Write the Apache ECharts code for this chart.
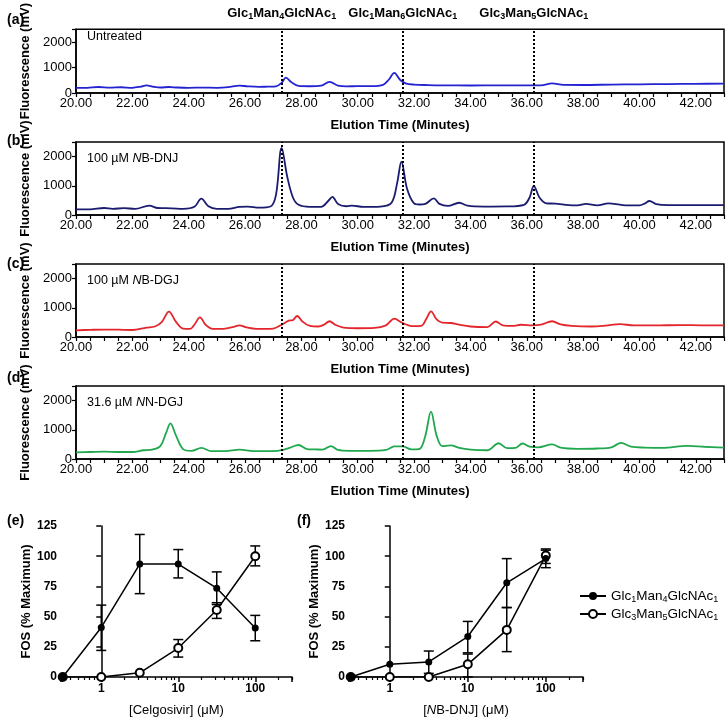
<!DOCTYPE html>
<html><head><meta charset="utf-8">
<script src="https://cdn.jsdelivr.net/npm/echarts@6/dist/echarts.min.js"></script>
<style>html,body{margin:0;padding:0;background:#fff}#c{width:727px;height:718px}</style>
</head><body><div id="c"></div>
<script>
// ---------- data ----------
const peakLabels = ['Glc1Man4GlcNAc1', 'Glc1Man6GlcNAc1', 'Glc3Man5GlcNAc1'];
const peakTimes = [27.3, 31.6, 36.25];
const panelLetters = ['(a)', '(b)', '(c)', '(d)'];
const panelNotes = ['Untreated', '100 µM {i|N}B-DNJ', '100 µM {i|N}B-DGJ', '31.6 µM {i|N}N-DGJ'];
const traceColors = ['#2323d2', '#1b1b70', '#e2262c', '#20a84e'];

const traceUntreated = [[20.0,200],[20.4,205],[20.8,235],[21.2,210],[21.6,225],[22.0,205],[22.3,250],[22.5,300],[22.75,245],[23.0,215],[23.3,235],[23.6,215],[24.0,205],[24.5,210],[25.0,205],[25.4,230],[25.8,290],[26.1,260],[26.5,240],[26.8,250],[27.1,260],[27.3,400],[27.45,600],[27.65,420],[27.9,280],[28.3,265],[28.7,290],[29.0,440],[29.3,290],[29.6,260],[30.0,270],[30.5,270],[30.9,320],[31.1,520],[31.3,790],[31.5,520],[31.7,380],[32.0,330],[32.5,310],[33.0,300],[34.0,295],[35.0,300],[36.0,300],[36.5,300],[36.9,380],[37.3,320],[38.0,315],[39.0,330],[40.0,340],[41.0,350],[42.0,360],[43.0,370]];
const traceNBDNJ = [[20,190],[20.5,195],[21.0,240],[21.3,210],[21.7,235],[22.1,210],[22.6,320],[22.9,240],[23.4,230],[23.8,210],[24.2,280],[24.45,560],[24.7,300],[25.0,210],[25.4,210],[25.8,280],[26.1,290],[26.5,250],[26.9,290],[27.1,700],[27.3,2300],[27.5,1300],[27.7,600],[27.9,350],[28.3,280],[28.7,280],[28.95,480],[29.1,620],[29.3,380],[29.6,300],[29.8,320],[30.2,280],[30.8,290],[31.2,420],[31.4,1100],[31.55,1830],[31.75,900],[32.0,400],[32.2,360],[32.4,380],[32.7,570],[32.9,380],[33.2,310],[33.6,420],[33.9,320],[34.5,290],[35.3,295],[35.9,350],[36.1,600],[36.25,1000],[36.45,600],[36.7,400],[37.0,390],[37.5,340],[37.8,330],[38.1,380],[38.5,330],[38.9,400],[39.4,340],[40.0,330],[40.2,400],[40.35,480],[40.6,370],[41.0,335],[42.0,335],[43.0,335]];
const traceNBDGJ = [[20,230],[20.5,245],[21,255],[21.5,250],[22,240],[22.5,320],[22.8,360],[23.05,520],[23.3,870],[23.55,520],[23.8,290],[24.05,280],[24.2,420],[24.4,670],[24.6,420],[24.85,280],[25.3,290],[25.6,350],[25.8,400],[26.05,330],[26.4,280],[27.0,290],[27.3,420],[27.55,560],[27.7,580],[27.85,720],[28.05,520],[28.3,380],[28.6,360],[28.8,420],[29.0,540],[29.2,420],[29.5,320],[30,300],[30.6,310],[31.0,400],[31.3,630],[31.55,500],[31.8,400],[32.0,370],[32.25,380],[32.45,650],[32.6,880],[32.8,600],[33.0,490],[33.3,480],[33.6,420],[34.0,360],[34.6,340],[34.9,530],[35.15,400],[35.5,380],[35.8,420],[36.2,400],[36.5,420],[36.9,540],[37.2,430],[37.6,380],[38.3,360],[38.8,390],[39.3,440],[39.8,400],[40.5,395],[41.5,410],[42.2,400],[43,400]];
const traceNNDGJ = [[20,230],[20.5,240],[21,250],[21.5,240],[22,240],[22.4,300],[22.7,320],[23.0,450],[23.2,900],[23.35,1220],[23.55,800],[23.8,340],[24.1,280],[24.45,380],[24.8,270],[25.3,270],[25.8,320],[26.3,270],[27.0,270],[27.3,300],[27.6,390],[27.9,480],[28.2,340],[28.5,330],[28.75,320],[29.05,440],[29.3,310],[29.7,280],[30.4,280],[31.0,310],[31.3,430],[31.6,430],[31.9,330],[32.2,350],[32.4,800],[32.6,1620],[32.8,800],[33.0,440],[33.3,470],[33.6,380],[34.0,320],[34.6,300],[35.0,540],[35.3,370],[35.6,380],[35.85,530],[36.1,420],[36.4,400],[36.9,500],[37.2,390],[37.8,350],[38.5,360],[39.0,400],[39.35,550],[39.7,420],[40.2,390],[40.8,380],[41.7,450],[42.3,420],[43,390]];
const traces = [traceUntreated, traceNBDNJ, traceNBDGJ, traceNNDGJ];

const doses = [0.316, 1, 3.16, 10, 31.6, 100];
const seriesNames = ['Glc1Man4GlcNAc1', 'Glc3Man5GlcNAc1'];
// (e) Celgosivir
const celgMan4 = [0, 41, 93.5, 93.5, 73.5, 40.5];
const celgMan4Lo = [null, 22, 69, 82, 60, 30];
const celgMan4Hi = [null, 59.5, 118, 105.5, 87, 51];
const celgMan5 = [0, 0, 3.5, 24, 55.5, 100];
const celgMan5Lo = [null, null, null, 16.5, 48.5, 92];
const celgMan5Hi = [null, null, null, 31, 61.5, 108.5];
// (f) NB-DNJ
const nbMan4 = [0, 10.5, 12.5, 33.5, 78, 98];
const nbMan4Lo = [null, null, 0, 20, 57.5, 90.5];
const nbMan4Hi = [null, null, 21.5, 46, 98, 106];
const nbMan5 = [0, 0, 0, 10.5, 39, 100.5];
const nbMan5Lo = [null, null, null, 0, 21, 94];
const nbMan5Hi = [null, null, 3, 19, 57.5, 105];
const logMajorLabels = [1, 10, 100];
const logMinorTicks = [0.4,0.5,0.6,0.7,0.8,0.9,2,3,4,5,6,7,8,9,20,30,40,50,60,70,80,90,200,300];

// ---------- helpers ----------
const FONT = "'Liberation Sans', Arial, Helvetica, sans-serif";
function subRich(name, p) {
  return name.replace(/(\D+)(\d+)/g, (m, a, d) => '{' + p + '|' + a + '}{' + p + 's|' + d + '}');
}
function richSet(p, size, weight) {
  const r = {};
  r[p] = {fontSize: size, fontWeight: weight, color: '#000', fontFamily: FONT, lineHeight: 16};
  r[p + 's'] = {fontSize: Math.round(size * 0.68), fontWeight: weight, color: '#000', fontFamily: FONT, verticalAlign: 'bottom', lineHeight: 9, padding: [9, 0, 0, 0]};
  return r;
}
function errData(lo, hi) {
  const out = [];
  doses.forEach((d, i) => { if (lo[i] !== null || hi[i] !== null) out.push([d, lo[i] === null ? 0 : lo[i], hi[i] === null ? 0 : hi[i]]); });
  return out;
}
function errRender(params, api) {
  const x = api.value(0), lo = api.value(1), hi = api.value(2);
  const p1 = api.coord([x, lo]), p2 = api.coord([x, hi]);
  const w = 5;
  const st = {stroke: '#000', lineWidth: 1.5, fill: null};
  return {type: 'group', children: [
    {type: 'line', shape: {x1: p1[0], y1: p1[1], x2: p2[0], y2: p2[1]}, style: st},
    {type: 'line', shape: {x1: p1[0] - w, y1: p1[1], x2: p1[0] + w, y2: p1[1]}, style: st},
    {type: 'line', shape: {x1: p2[0] - w, y1: p2[1], x2: p2[0] + w, y2: p2[1]}, style: st}
  ]};
}

// ---------- layout ----------
const panelTops = [20, 142, 264, 386];
const panelH = 73;
const letterTops = [8, 129, 252, 366];

const grid = [], xAxis = [], yAxis = [], series = [], title = [];
const black = '#000';
panelTops.forEach((top, i) => {
  grid.push({left: 76, width: 649, top: top, height: panelH, show: true, borderColor: black, borderWidth: 1.5});
  xAxis.push({gridIndex: i, type: 'value', min: 20, max: 43, interval: 0.5,
    name: 'Elution Time (Minutes)', nameLocation: 'middle', nameGap: 26,
    nameTextStyle: {fontWeight: 'bold', fontSize: 13, color: black, fontFamily: FONT},
    axisLine: {lineStyle: {color: black, width: 1.5}},
    axisTick: {length: 4, lineStyle: {color: black, width: 1.2}},
    axisLabel: {interval: 0, margin: 4, fontSize: 13, color: black, fontFamily: FONT,
      formatter: v => (Math.abs(v % 2) < 1e-9 ? v.toFixed(2) : '')},
    splitLine: {show: false}});
  yAxis.push({gridIndex: i, type: 'value', min: 0, max: 2500, interval: 1000,
    name: 'Fluorescence (mV)', nameLocation: 'middle', nameGap: 33,
    nameTextStyle: {fontWeight: 'bold', fontSize: 13, color: black, fontFamily: FONT},
    axisLine: {show: true, lineStyle: {color: black, width: 1.5}},
    axisTick: {show: true, length: 4, lineStyle: {color: black, width: 1.2}},
    axisLabel: {margin: 4, fontSize: 13, color: black, fontFamily: FONT, formatter: v => (v % 1000 === 0 ? String(v) : '')},
    splitLine: {show: false}});
  series.push({type: 'line', xAxisIndex: i, yAxisIndex: i, data: traces[i], showSymbol: false, smooth: 0.35,
    lineStyle: {color: traceColors[i], width: 1.8}, itemStyle: {color: traceColors[i]}, silent: true,
    markLine: {silent: true, symbol: ['none', 'none'], animation: false,
      lineStyle: {color: black, type: [2, 2], width: 2},
      label: {show: i === 0, position: 'end', distance: 8,
        formatter: p => subRich(p.name, 'h'), rich: richSet('h', 13, 'bold')},
      data: peakTimes.map((t, k) => ({xAxis: t, name: peakLabels[k]}))}});
  title.push({text: panelLetters[i], left: 2, top: letterTops[i], textStyle: {fontSize: 14, fontWeight: 'bold', color: black, fontFamily: FONT}});
  title.push({text: panelNotes[i], left: 82, top: top + 5,
    textStyle: {fontSize: 12.5, fontWeight: 'normal', color: black, fontFamily: FONT,
      rich: {i: {fontStyle: 'italic', fontSize: 12.5, color: black, fontFamily: FONT}}}});
});

// bottom dose-response panels
const bottom = [
  {left: 61, width: 231, name: '[Celgosivir] (μM)', yGap: 21, letter: '(e)', letterLeft: 2,
    m4: celgMan4, m4lo: celgMan4Lo, m4hi: celgMan4Hi, m5: celgMan5, m5lo: celgMan5Lo, m5hi: celgMan5Hi},
  {left: 349, width: 234, name: '[{i|N}B-DNJ] (μM)', yGap: 20, letter: '(f)', letterLeft: 292,
    m4: nbMan4, m4lo: nbMan4Lo, m4hi: nbMan4Hi, m5: nbMan5, m5lo: nbMan5Lo, m5hi: nbMan5Hi}
];
bottom.forEach((b, j) => {
  const gi = grid.length;
  grid.push({left: b.left, width: b.width, top: 526, height: 153});
  const xi = xAxis.length;
  xAxis.push({gridIndex: gi, type: 'log', logBase: 10, min: 0.3, max: 300, position: 'bottom',
    name: b.name, nameLocation: 'middle', nameGap: 27,
    nameTextStyle: {fontSize: 13, color: black, fontFamily: FONT, rich: {i: {fontStyle: 'italic', fontSize: 13, color: black, fontFamily: FONT}}},
    axisLine: {lineStyle: {color: black, width: 1.5}},
    axisTick: {length: 5, lineStyle: {color: black, width: 1.5}},
    axisLabel: {margin: 6, fontSize: 12, fontWeight: 'bold', color: black, fontFamily: FONT,
      formatter: v => (logMajorLabels.some(m => Math.abs(m - v) < 1e-6) ? String(Math.round(v)) : '')},
    splitLine: {show: false}, minorTick: {show: false}});
  xAxis.push({gridIndex: gi, type: 'value', min: Math.log10(0.3), max: Math.log10(300), position: 'bottom',
    axisLine: {show: false}, axisLabel: {show: false}, splitLine: {show: false},
    axisTick: {show: true, length: 3, lineStyle: {color: black, width: 1.2}, customValues: logMinorTicks.map(v => Math.log10(v))}});
  const yi = yAxis.length;
  yAxis.push({gridIndex: gi, type: 'value', min: 0, max: 125, interval: 25,
    name: 'FOS (% Maximum)', nameLocation: 'middle', nameGap: b.yGap,
    nameTextStyle: {fontWeight: 'bold', fontSize: 13, color: black, fontFamily: FONT},
    axisLine: {show: true, lineStyle: {color: black, width: 1.5}},
    axisTick: {show: true, length: 5, lineStyle: {color: black, width: 1.5}},
    axisLabel: {margin: 4, fontSize: 12, fontWeight: 'bold', color: black, fontFamily: FONT},
    splitLine: {show: false}});
  series.push({type: 'custom', xAxisIndex: xi, yAxisIndex: yi, renderItem: errRender, data: errData(b.m4lo, b.m4hi), z: 2, silent: true});
  series.push({type: 'custom', xAxisIndex: xi, yAxisIndex: yi, renderItem: errRender, data: errData(b.m5lo, b.m5hi), z: 2, silent: true});
  series.push({type: 'line', name: seriesNames[1], xAxisIndex: xi, yAxisIndex: yi,
    data: doses.map((d, k) => [d, b.m5[k]]), symbol: 'emptyCircle', symbolSize: 8, showSymbol: true,
    lineStyle: {color: black, width: 1.5}, itemStyle: {color: black, borderWidth: 1.5}, z: 3});
  series.push({type: 'line', name: seriesNames[0], xAxisIndex: xi, yAxisIndex: yi,
    data: doses.map((d, k) => [d, b.m4[k]]), symbol: 'circle', symbolSize: 7, showSymbol: true,
    lineStyle: {color: black, width: 1.5}, itemStyle: {color: black}, z: 4});
  title.push({text: b.letter, left: b.letterLeft, top: 509, textStyle: {fontSize: 14, fontWeight: 'bold', color: black, fontFamily: FONT}});
});

const legendRich = richSet('g', 13.5, 'normal');
const option = {
  animation: false,
  backgroundColor: '#fff',
  textStyle: {fontFamily: FONT},
  title: title,
  grid: grid,
  xAxis: xAxis,
  yAxis: yAxis,
  legend: {data: seriesNames, orient: 'vertical', left: 574, top: 581, itemWidth: 26, itemHeight: 10, itemGap: 0,
    selectedMode: false, formatter: n => subRich(n, 'g'), textStyle: {rich: legendRich}},
  series: series
};
const chart = echarts.init(document.getElementById('c'), null, {renderer: 'canvas'});
chart.setOption(option);
</script>
</body></html>
